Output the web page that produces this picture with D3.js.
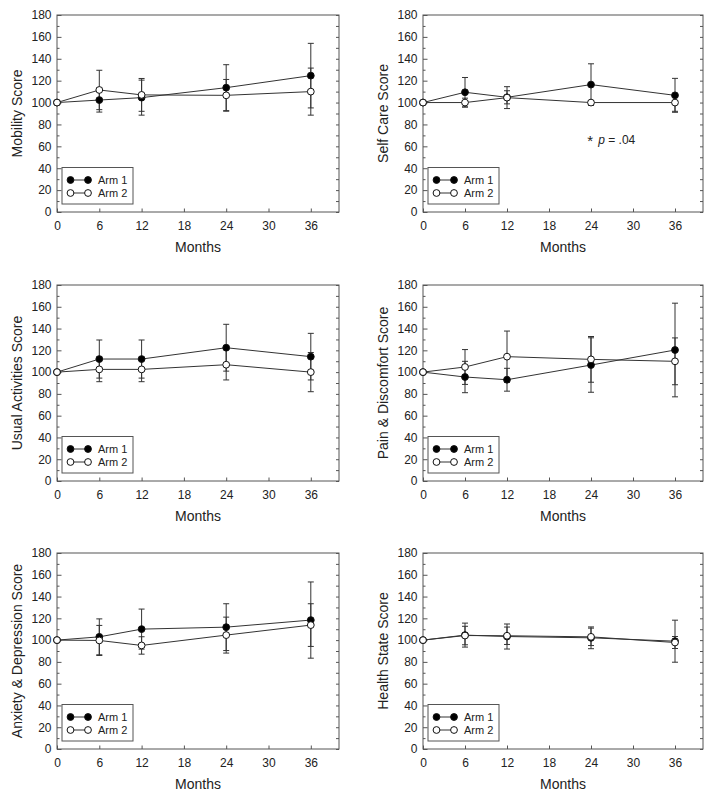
<!DOCTYPE html>
<html>
<head>
<meta charset="utf-8">
<script src="https://cdn.jsdelivr.net/npm/d3@7"></script>
<style>
  html, body { margin: 0; padding: 0; background: #fff; }
  svg { display: block; font-family: Arial, "Liberation Sans", sans-serif; }
</style>
</head>
<body>
<svg id="chart" width="715" height="798"></svg>
<script>
// ---------- data ----------
const months = [0, 6, 12, 24, 36];
const xTicks = [0, 6, 12, 18, 24, 30, 36];
const yTicks = [0, 20, 40, 60, 80, 100, 120, 140, 160, 180];
const yMinorTicks = [10, 30, 50, 70, 90, 110, 130, 150, 170];
const seriesNames = ["Arm 1", "Arm 2"];
const xTitle = "Months";
const yTitles = ["Mobility Score", "Self Care Score", "Usual Activities Score",
                 "Pain & Discomfort Score", "Anxiety & Depression Score", "Health State Score"];

const mobilityArm1 = [100, 102.3, 104.5, 113.6, 124.6];
const mobilityArm1Err = [0, 11, 16, 21, 29.5];
const mobilityArm2 = [100, 111.5, 107, 106.6, 110];
const mobilityArm2Err = [0, 18, 15, 14.5, 21.5];

const selfCareArm1 = [100, 109.4, 104.8, 116.4, 106.6];
const selfCareArm1Err = [0, 13.5, 6, 19, 15.5];
const selfCareArm2 = [100, 100, 104.5, 100, 100];
const selfCareArm2Err = [0, 4, 10, 0, 8];

const usualArm1 = [100, 112, 112, 122.4, 114.2];
const usualArm1Err = [0, 17.5, 17.5, 21.5, 21.4];
const usualArm2 = [100, 102.5, 102.5, 106.8, 100];
const usualArm2Err = [0, 11.3, 11.3, 14, 18];

const painArm1 = [100, 95.5, 93, 106.5, 120.3];
const painArm1Err = [0, 14.4, 10.5, 25, 43];
const painArm2 = [100, 104.7, 114.2, 111.7, 109.9];
const painArm2Err = [0, 16, 23.5, 21, 21.5];

const anxietyArm1 = [100, 103, 110.1, 111.9, 118.4];
const anxietyArm1Err = [0, 16.5, 18.4, 21.5, 35];
const anxietyArm2 = [100, 99.7, 95.1, 104.6, 113.8];
const anxietyArm2Err = [0, 13.8, 8, 16.5, 19.6];

const healthArm1 = [100, 104.6, 103.3, 102.1, 99];
const healthArm1Err = [0, 11, 11.5, 10, 19.3];
const healthArm2 = [100, 104.2, 104, 103, 97.8];
const healthArm2Err = [0, 8.5, 8, 8, 5.5];

// annotation (panel 2): position in data units
const annotation = { panel: 1, month: 23.6, value: 62, star: "*", pre: "p", post: " = .04" };

// ---------- build panels ----------
const panels = [
  { title: yTitles[0], a1: mobilityArm1, e1: mobilityArm1Err, a2: mobilityArm2, e2: mobilityArm2Err },
  { title: yTitles[1], a1: selfCareArm1, e1: selfCareArm1Err, a2: selfCareArm2, e2: selfCareArm2Err },
  { title: yTitles[2], a1: usualArm1, e1: usualArm1Err, a2: usualArm2, e2: usualArm2Err },
  { title: yTitles[3], a1: painArm1, e1: painArm1Err, a2: painArm2, e2: painArm2Err },
  { title: yTitles[4], a1: anxietyArm1, e1: anxietyArm1Err, a2: anxietyArm2, e2: anxietyArm2Err },
  { title: yTitles[5], a1: healthArm1, e1: healthArm1Err, a2: healthArm2, e2: healthArm2Err }
];

const colX = [[57, 339], [423, 703]];
const rowY = [[15, 212], [285, 481], [553, 749]];

const svg = d3.select("#chart");
const frameColor = "#555";
const lineColor = "#333";
const markerR = 3.4;

panels.forEach((p, i) => {
  const [L, R] = colX[i % 2];
  const [T, B] = rowY[Math.floor(i / 2)];
  const x = d3.scaleLinear().domain([0, 40]).range([L, R]);
  const y = d3.scaleLinear().domain([0, 180]).range([B, T]);
  const g = svg.append("g");

  // frame
  g.append("rect").attr("x", L).attr("y", T).attr("width", R - L).attr("height", B - T)
    .attr("fill", "none").attr("stroke", frameColor).attr("stroke-width", 1);

  // left axis major
  const left = g.append("g").attr("transform", `translate(${L},0)`)
    .call(d3.axisLeft(y).tickValues(yTicks).tickSizeInner(-4.5).tickSizeOuter(0).tickPadding(5.5));
  // left minor
  const leftMinor = g.append("g").attr("transform", `translate(${L},0)`)
    .call(d3.axisLeft(y).tickValues(yMinorTicks).tickSizeInner(-2.5).tickSizeOuter(0).tickFormat(""));
  // right ticks
  const right = g.append("g").attr("transform", `translate(${R},0)`)
    .call(d3.axisRight(y).tickValues(yTicks.concat(yMinorTicks)).tickSizeInner(-3).tickSizeOuter(0).tickFormat(""));
  // bottom
  const bottom = g.append("g").attr("transform", `translate(0,${B})`)
    .call(d3.axisBottom(x).tickValues(xTicks).tickSizeInner(-3.5).tickSizeOuter(0).tickPadding(9.5));

  [left, leftMinor, right, bottom].forEach(a => {
    a.select(".domain").remove();
    a.selectAll("line").attr("stroke", frameColor);
    a.selectAll("text").attr("fill", "#222").style("font-size", "12px")
      .style("font-family", 'Arial, "Liberation Sans", sans-serif');
  });

  // titles
  g.append("text").attr("x", (L + R) / 2).attr("y", B + 40)
    .attr("text-anchor", "middle").attr("fill", "#222").style("font-size", "14px").text(xTitle);
  g.append("text").attr("transform", `translate(${L - 35},${(T + B) / 2}) rotate(-90)`)
    .attr("text-anchor", "middle").attr("fill", "#222").style("font-size", "14px").text(p.title);

  const series = [
    { vals: p.a1, errs: p.e1, fill: "#000" },
    { vals: p.a2, errs: p.e2, fill: "#fff" }
  ];

  // error bars
  series.forEach(s => {
    const eb = g.append("g");
    months.forEach((m, k) => {
      const e = s.errs[k];
      if (!e) return;
      const cx = x(m), y1 = y(s.vals[k] + e), y2 = y(s.vals[k] - e);
      eb.append("line").attr("x1", cx).attr("x2", cx).attr("y1", y1).attr("y2", y2)
        .attr("stroke", lineColor).attr("stroke-width", 1);
      [y1, y2].forEach(yy => eb.append("line").attr("x1", cx - 3).attr("x2", cx + 3)
        .attr("y1", yy).attr("y2", yy).attr("stroke", lineColor).attr("stroke-width", 1));
    });
  });

  // lines
  const line = d3.line().x((d, k) => x(months[k])).y(d => y(d));
  series.forEach(s => {
    g.append("path").datum(s.vals).attr("d", line).attr("fill", "none")
      .attr("stroke", lineColor).attr("stroke-width", 1);
  });

  // markers
  series.forEach(s => {
    g.append("g").selectAll("circle").data(s.vals).join("circle")
      .attr("cx", (d, k) => x(months[k])).attr("cy", d => y(d)).attr("r", markerR)
      .attr("fill", s.fill).attr("stroke", "#111").attr("stroke-width", 1);
  });

  // legend
  const lx = L + 5, ly = B - 44.5;
  const lg = g.append("g");
  lg.append("rect").attr("x", lx).attr("y", ly).attr("width", 71).attr("height", 36.5)
    .attr("fill", "#fff").attr("stroke", frameColor).attr("stroke-width", 1);
  seriesNames.forEach((name, k) => {
    const yy = ly + 12.5 + k * 13;
    lg.append("line").attr("x1", lx + 8.5).attr("x2", lx + 26).attr("y1", yy).attr("y2", yy)
      .attr("stroke", lineColor).attr("stroke-width", 1);
    [lx + 8.5, lx + 26].forEach(cx => lg.append("circle").attr("cx", cx).attr("cy", yy).attr("r", markerR)
      .attr("fill", series[k].fill).attr("stroke", "#111").attr("stroke-width", 1));
    lg.append("text").attr("x", lx + 36).attr("y", yy + 4).attr("fill", "#222")
      .style("font-size", "11px").text(name);
  });

  // annotation
  if (i === annotation.panel) {
    const ax = x(annotation.month), ay = y(annotation.value);
    g.append("text").attr("x", ax - 1).attr("y", ay + 2).attr("fill", "#222")
      .style("font-size", "15px").text(annotation.star);
    const t = g.append("text").attr("x", ax + 10).attr("y", ay).attr("fill", "#222").style("font-size", "12px");
    t.append("tspan").style("font-style", "italic").text(annotation.pre);
    t.append("tspan").text(annotation.post);
  }
});
</script>
</body>
</html>
